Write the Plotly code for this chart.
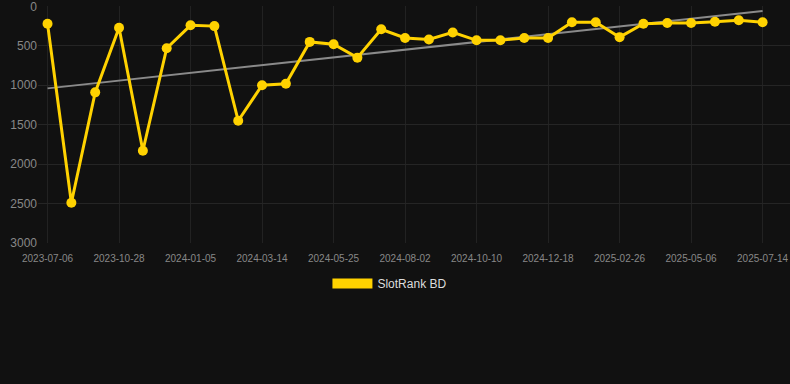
import numpy as np
import plotly.graph_objects as go

dates = [
    "2023-07-06", "2023-08-14", "2023-09-21", "2023-10-28", "2023-11-20", "2023-12-13",
    "2024-01-05", "2024-01-28", "2024-02-20", "2024-03-14", "2024-04-07", "2024-05-01",
    "2024-05-25", "2024-06-17", "2024-07-10", "2024-08-02", "2024-08-25", "2024-09-17",
    "2024-10-10", "2024-11-02", "2024-11-25", "2024-12-18", "2025-01-10", "2025-02-02",
    "2025-02-26", "2025-03-21", "2025-04-13", "2025-05-06", "2025-05-29", "2025-06-21",
    "2025-07-14",
]
ranks = [
    220, 2490, 1090, 270, 1830, 530, 240, 250, 1450, 1000, 980, 450, 480, 650, 290,
    400, 420, 330, 430, 430, 400, 400, 200, 200, 390, 220, 210, 210, 195, 175, 200,
]
tick_labels = dates[::3]
y_ticks = [0, 500, 1000, 1500, 2000, 2500, 3000]

idx = np.arange(len(ranks))
slope, intercept = np.polyfit(idx, ranks, 1)
trend = slope * idx + intercept

YELLOW = "#FFD200"

fig = go.Figure()
fig.add_trace(go.Scatter(
    x=dates, y=trend, mode="lines",
    line=dict(color="#8a8a8a", width=2),
    showlegend=False, hoverinfo="skip",
))
fig.add_trace(go.Scatter(
    x=dates, y=ranks, mode="lines+markers",
    line=dict(color=YELLOW, width=3),
    marker=dict(color=YELLOW, size=10),
    showlegend=False,
))
fig.add_trace(go.Scatter(
    x=[None], y=[None], mode="lines",
    line=dict(color=YELLOW, width=10),
    name="SlotRank BD",
))

fig.update_layout(
    width=790, height=384,
    paper_bgcolor="#111111", plot_bgcolor="#111111",
    margin=dict(l=38, r=0, t=6, b=141),
    font=dict(family="Liberation Sans, Arial, sans-serif", color="#888888"),
    xaxis=dict(
        type="category",
        range=[-0.4, 31.15],
        automargin=False,
        tickmode="array", tickvals=tick_labels, ticktext=tick_labels,
        tickfont=dict(size=10, color="#888888"),
        showgrid=True, gridcolor="#222222", zeroline=False,
        showline=False, ticks="outside", ticklen=6, tickcolor="rgba(0,0,0,0)",
        ticklabeloverflow="allow",
    ),
    yaxis=dict(
        range=[3000, -5],
        automargin=False,
        tickmode="array", tickvals=y_ticks,
        tickfont=dict(size=12, color="#888888"),
        showgrid=True, gridcolor="#252525", zeroline=False,
        showline=False, ticks="",
        ticklabeloverflow="allow",
    ),
    legend=dict(
        orientation="h", x=0.468, xanchor="center", y=-0.11, yanchor="top",
        font=dict(size=12, color="#dddddd"),
        bgcolor="rgba(0,0,0,0)",
        itemwidth=40,
    ),
)

fig.write_html(
    "out.html",
    config={"displayModeBar": False},
    post_script="document.body.style.margin='0';",
)
